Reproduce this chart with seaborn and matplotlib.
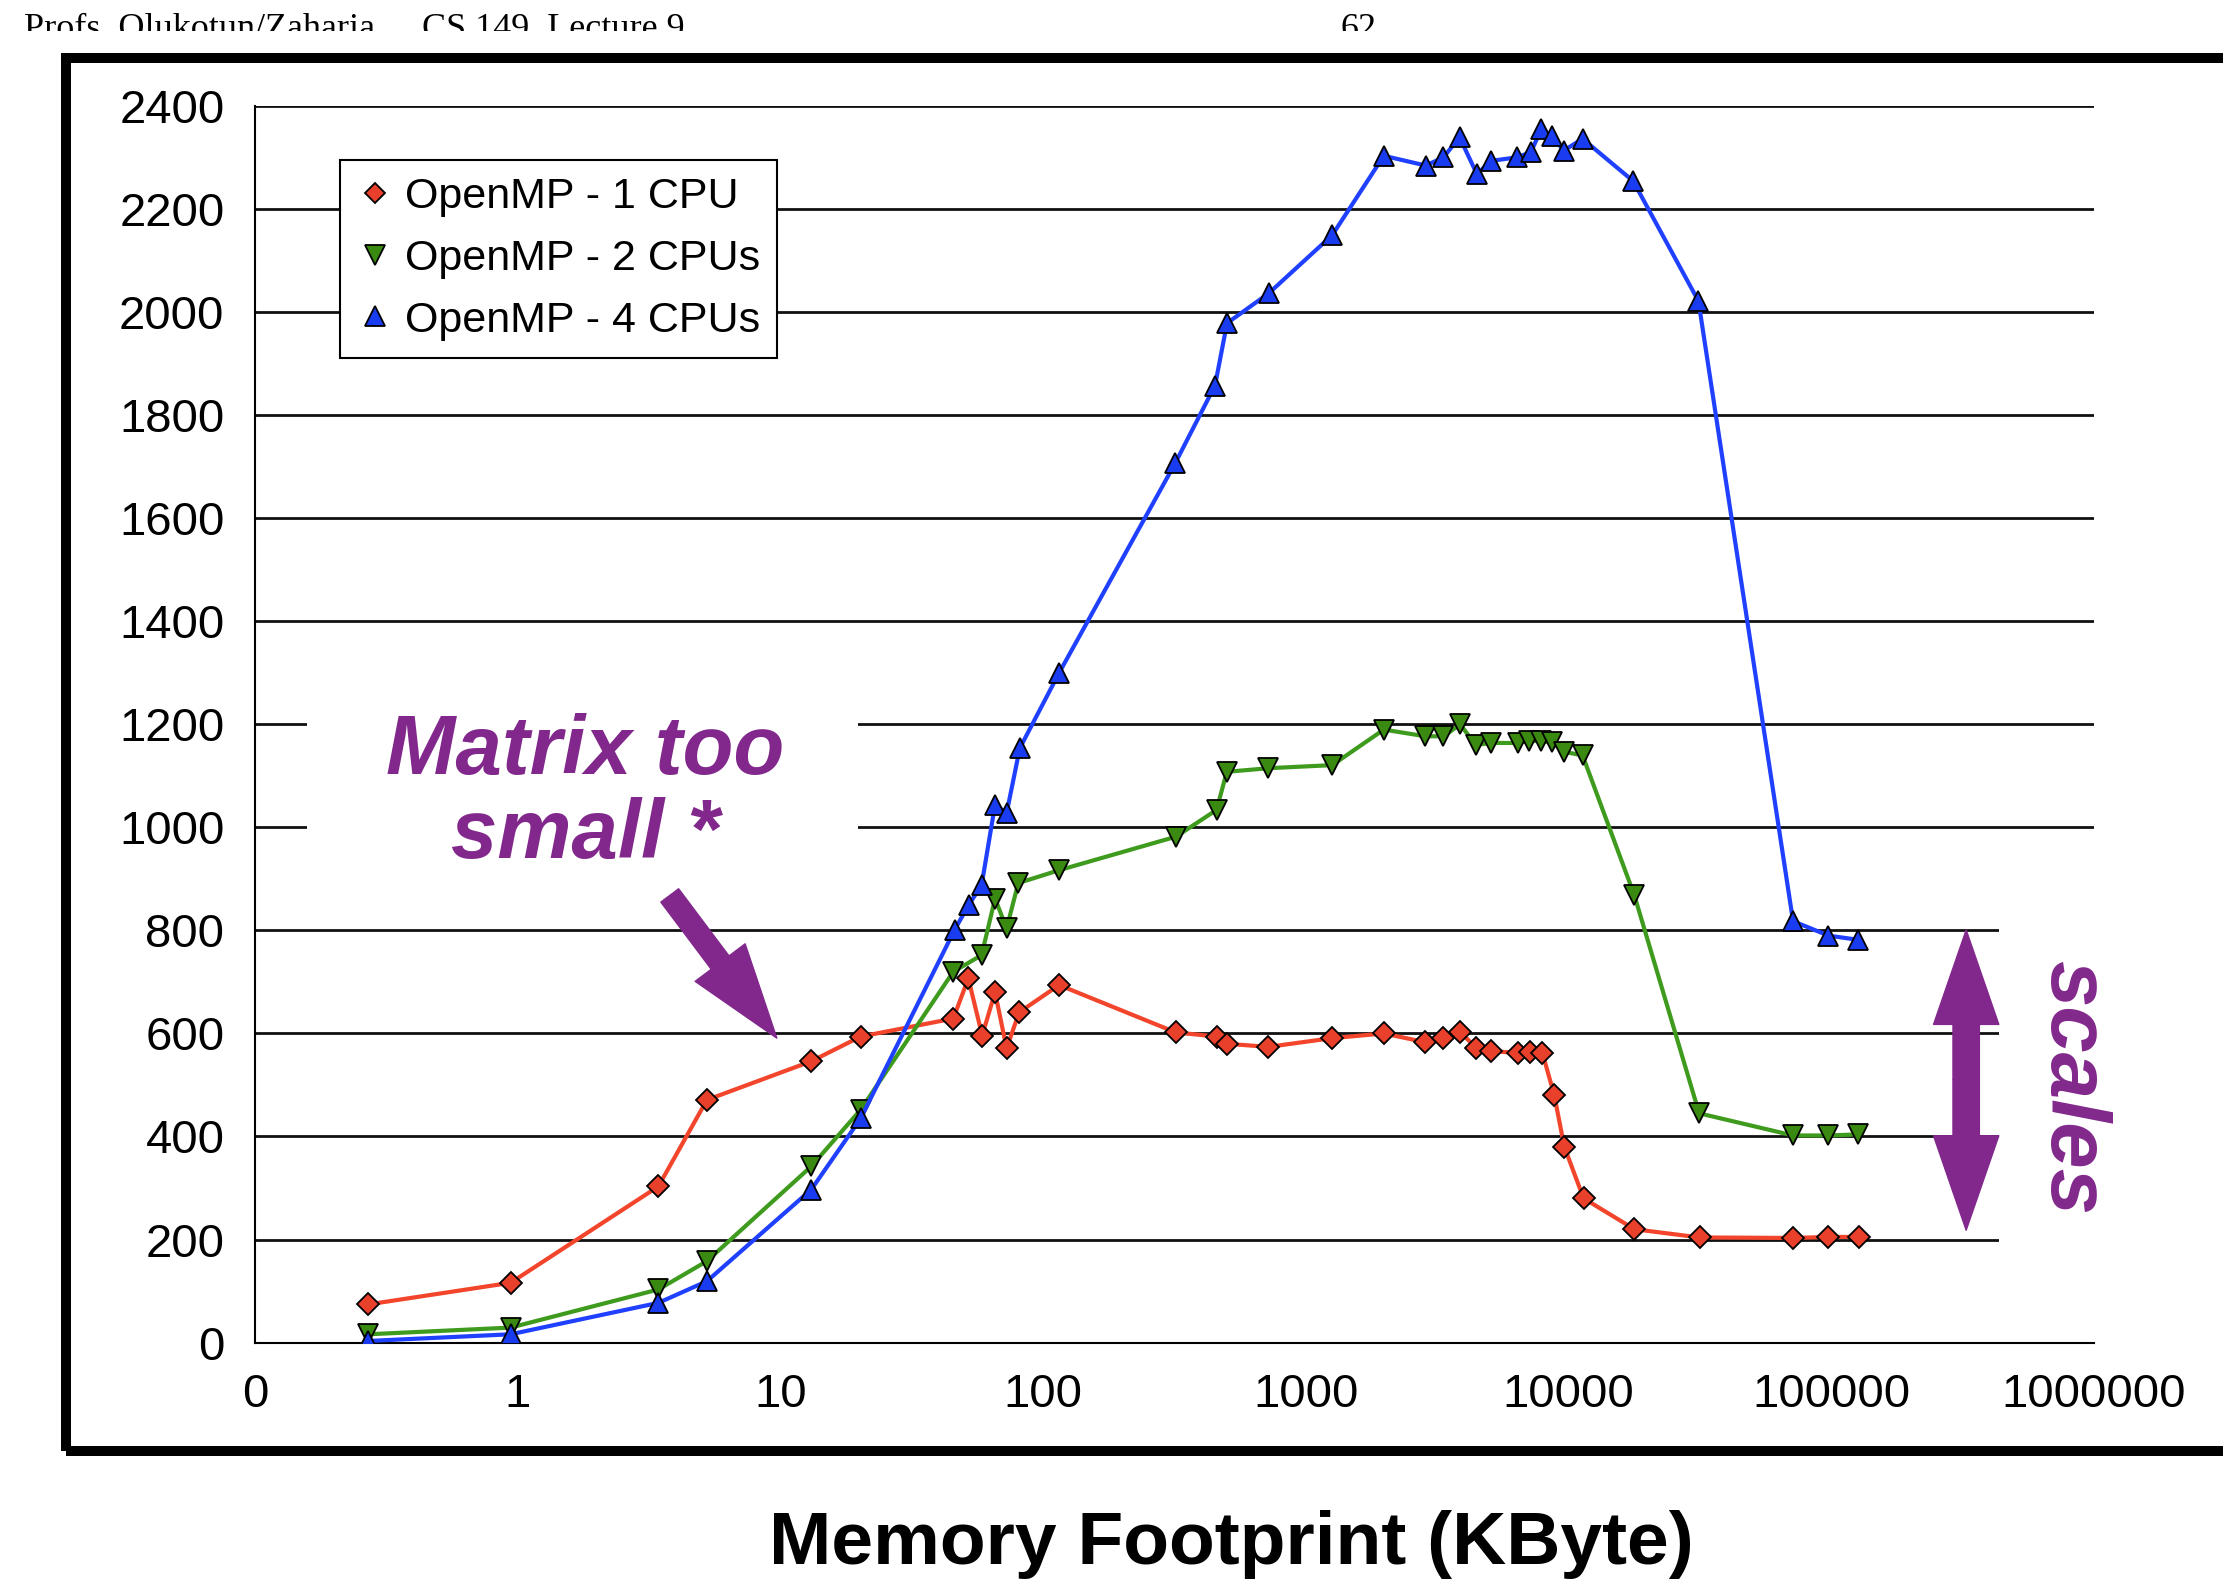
import matplotlib
matplotlib.use("Agg")
import matplotlib.pyplot as plt
from matplotlib.lines import Line2D
from matplotlib.patches import Rectangle
import seaborn as sns

# memory footprint (KByte) vs MFLOPS
kb_1cpu = [0.27, 0.94, 3.43, 5.25, 13.1, 20.2, 45.5, 51.9, 58.6, 65.6, 72.6, 81, 115, 320, 457, 500,
           720, 1260, 1980, 2850, 3340, 3860, 4450, 5050, 6430, 7120, 7940, 8820, 9630, 11400, 17800,
           31500, 71500, 97500, 127000]
mflops_1cpu = [74, 116, 303, 471, 546, 594, 629, 707, 596, 680, 571, 641, 694, 602, 594, 580,
               574, 591, 600, 583, 592, 603, 572, 566, 562, 565, 563, 480, 380, 280, 220,
               204, 203, 205, 205]

kb_2cpu = [0.27, 0.94, 3.43, 5.25, 13.1, 20.2, 45.5, 58.3, 65.6, 72.6, 80.4, 115, 320, 457, 500,
           720, 1260, 1980, 2850, 3340, 3870, 4430, 5060, 6410, 7090, 7830, 8660, 9580, 11300,
           17800, 31400, 71500, 97500, 126000]
mflops_2cpu = [16, 29, 103, 158, 342, 452, 720, 752, 862, 804, 892, 917, 982, 1034, 1108,
               1115, 1121, 1190, 1177, 1177, 1200, 1160, 1164, 1164, 1168, 1168, 1165, 1147, 1140,
               868, 445, 402, 402, 404]

kb_4cpu = [0.27, 0.94, 3.43, 5.25, 13.1, 20.2, 46, 52, 58.3, 65.6, 72.6, 81.5, 115, 318, 451, 501,
           722, 1260, 1980, 2860, 3340, 3845, 4480, 5050, 6360, 7180, 7880, 8630, 9580, 11300,
           17600, 31200, 71500, 97500, 126000]
mflops_4cpu = [3, 16, 77, 119, 297, 435, 801, 849, 888, 1044, 1028, 1154, 1300, 1707, 1858, 1979,
               2037, 2150, 2304, 2285, 2301, 2340, 2268, 2294, 2301, 2311, 2356, 2343, 2314, 2337,
               2255, 2022, 818, 790, 782]

series_names = ["OpenMP - 1 CPU", "OpenMP - 2 CPUs", "OpenMP - 4 CPUs"]
x_ticks = [0.1, 1, 10, 100, 1000, 10000, 100000, 1000000]
x_tick_labels = ["0", "1", "10", "100", "1000", "10000", "100000", "1000000"]
y_ticks = list(range(0, 2401, 200))

purple = "#82288C"
styles = [
    dict(color="#F2452C", mfc="#E8402A", marker="D", ms=11),
    dict(color="#3E9B1E", mfc="#3A8A12", marker="v", ms=15),
    dict(color="#2040FF", mfc="#1A3CF0", marker="^", ms=15),
]

sns.set_style("white")
plt.rcParams["font.family"] = ["Liberation Sans", "DejaVu Sans"]
plt.rcParams["text.color"] = "black"
plt.rcParams["axes.labelcolor"] = "black"

fig = plt.figure(figsize=(22.23, 15.80), dpi=100)
ax = fig.add_axes([0.1147, 0.1503, 0.942 - 0.1147, 0.9327 - 0.1503])
ax.set_axisbelow(True)

data = [(kb_1cpu, mflops_1cpu), (kb_2cpu, mflops_2cpu), (kb_4cpu, mflops_4cpu)]
handles = []
for (xs, ys), name, st in zip(data, series_names, styles):
    sns.lineplot(x=xs, y=ys, ax=ax, color=st["color"], linewidth=3, marker=st["marker"],
                 markersize=st["ms"], markerfacecolor=st["mfc"], markeredgecolor="black",
                 markeredgewidth=1.3, legend=False, zorder=3)
    handles.append(Line2D([], [], linestyle="none", marker=st["marker"], markersize=st["ms"] - 1,
                          markerfacecolor=st["mfc"], markeredgecolor="black",
                          markeredgewidth=1.3, label=name))

ax.set_xscale("log")
ax.set_xlim(0.1, 1000000)
ax.set_ylim(0, 2400)
ax.set_xticks(x_ticks)
ax.set_xticklabels(x_tick_labels)
ax.xaxis.set_minor_locator(matplotlib.ticker.NullLocator())
ax.set_yticks(y_ticks)
ax.set_yticklabels([str(v) for v in y_ticks])
ax.tick_params(axis="both", which="major", direction="out", length=15, width=1.5,
               pad=7, labelsize=34, colors="black")
ax.grid(axis="y", color="#111111", linewidth=2)
ax.grid(axis="x", visible=False)
for side in ["top", "right"]:
    ax.spines[side].set_visible(False)
for side in ["left", "bottom"]:
    ax.spines[side].set_color("black")
    ax.spines[side].set_linewidth(1.5)

# white boxes behind the annotations hide parts of the grid
ax.add_patch(Rectangle((0.158, 900), 19.66 - 0.158, 400, facecolor="white",
                       edgecolor="none", zorder=1))
ax.add_patch(Rectangle((434500, 100), 1000000 - 434500, 800, facecolor="white",
                       edgecolor="none", zorder=1))

ax.text(1.81, 941, "Matrix too\nsmall *", color=purple, fontsize=60, fontweight="bold",
        fontstyle="italic", ha="center", va="baseline", linespacing=1.1, zorder=4)
ax.annotate("", xy=(9.69, 591), xytext=(3.79, 868),
            arrowprops=dict(arrowstyle="simple,head_length=68,head_width=45,tail_width=16",
                            mutation_scale=1, color=purple, shrinkA=0, shrinkB=0), zorder=4)
for tip in [801, 218]:
    ax.annotate("", xy=(326000, tip), xytext=(326000, 510),
                arrowprops=dict(arrowstyle="simple,head_length=68,head_width=47,tail_width=19",
                                mutation_scale=1, color=purple, shrinkA=0, shrinkB=0), zorder=4)
ax.text(828000, 495, "scales", color=purple, fontsize=60, fontweight="bold",
        fontstyle="italic", rotation=270, ha="center", va="center", zorder=4)

leg = ax.legend(handles=handles, loc="upper left", bbox_to_anchor=(0.0463, 0.9564),
                borderaxespad=0, fontsize=31, frameon=True, fancybox=False, framealpha=1,
                edgecolor="black", handlelength=0.8, handletextpad=0.3, labelspacing=0.5,
                borderpad=0.4)
leg.get_frame().set_linewidth(1.5)

ax.set_xlabel("Memory Footprint (KByte)", fontsize=54, fontweight="bold", color="black")
ax.xaxis.set_label_coords(0.531, -0.179)
ax.xaxis.label.set_va("baseline")

# slide frame and clipped header
fig.add_artist(Rectangle((66 / 2223, 1 - 1451 / 1580), 1.2, (1451 - 57.5) / 1580,
                         transform=fig.transFigure, fill=False, edgecolor="black",
                         linewidth=7.2, zorder=5))
fig.text(24 / 2223, 1 - 37.6 / 1580, "Profs. Olukotun/Zaharia", family="Liberation Serif",
         fontsize=26, va="baseline", ha="left")
fig.text(422 / 2223, 1 - 37.6 / 1580, "CS 149  Lecture 9", family="Liberation Serif",
         fontsize=26, va="baseline", ha="left")
fig.text(1340 / 2223, 1 - 37.6 / 1580, "62", family="Liberation Serif",
         fontsize=26, va="baseline", ha="left")
fig.add_artist(Rectangle((0, 1 - 52 / 1580), 1, 21 / 1580, transform=fig.transFigure,
                         facecolor="white", edgecolor="none", zorder=6))

fig.savefig("out.png", dpi=100)
